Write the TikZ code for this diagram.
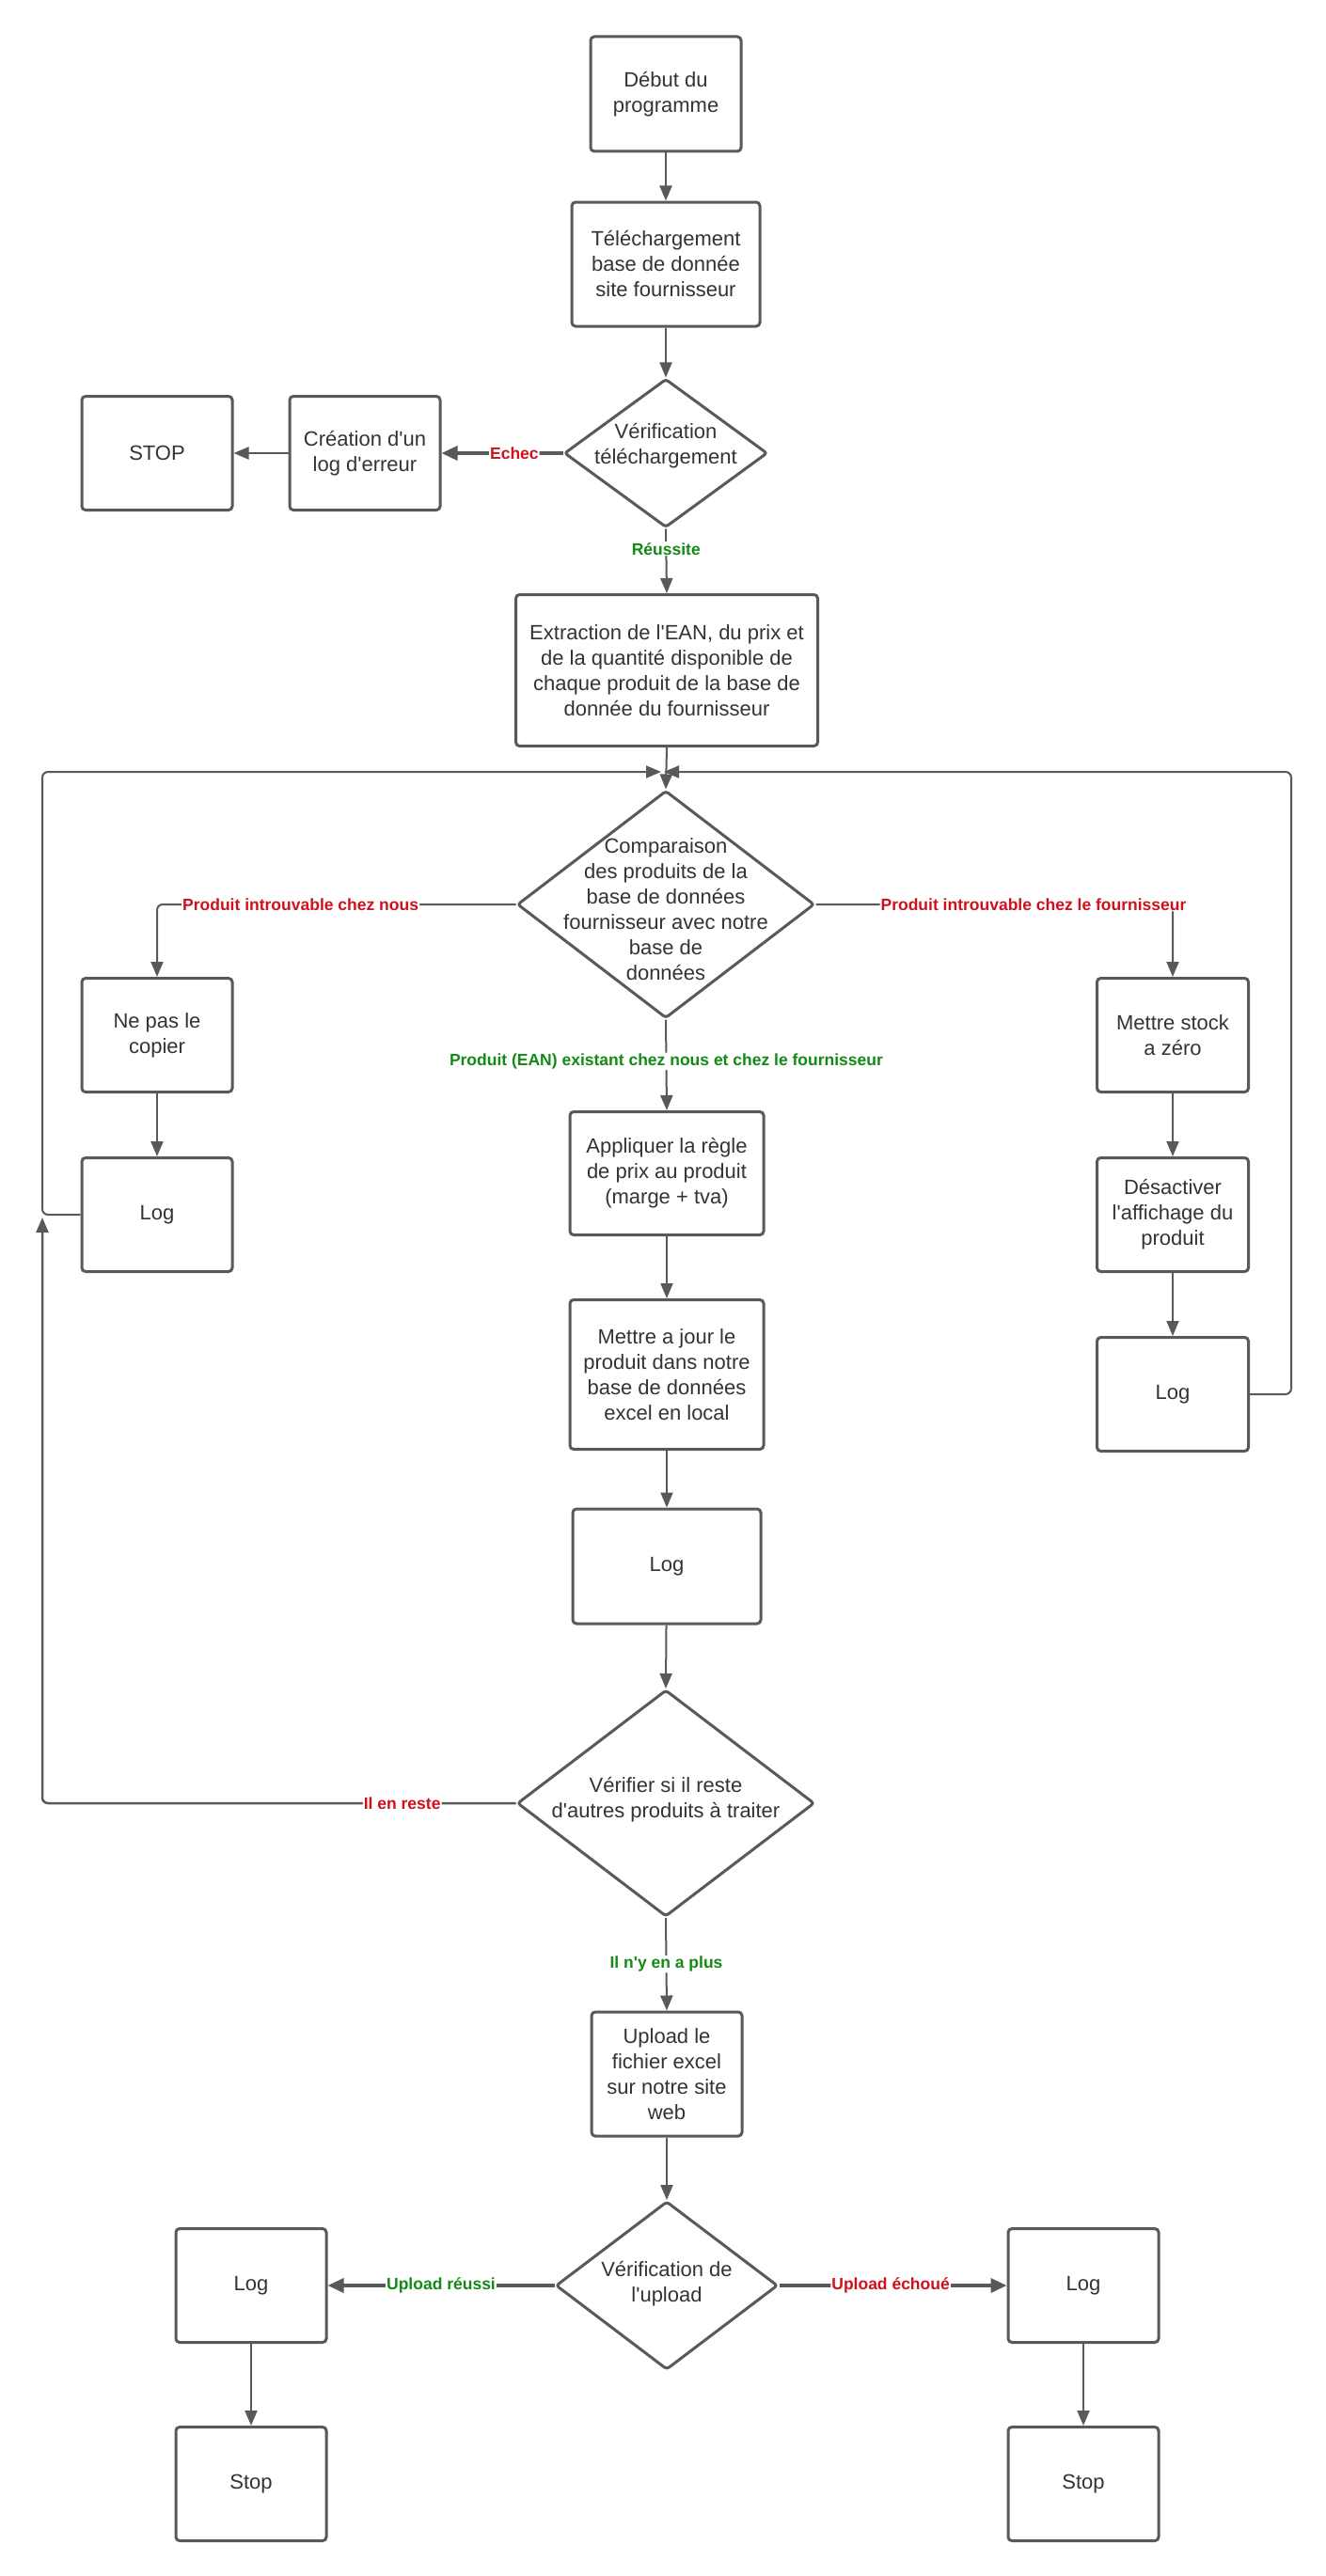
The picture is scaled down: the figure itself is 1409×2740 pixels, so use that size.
\documentclass[tikz,border=0pt]{standalone}
\usepackage{fontspec}
\setmainfont{Liberation Sans}
\newfontfamily\lsans{Liberation Sans}
\usetikzlibrary{shapes.geometric,arrows.meta,calc}
\definecolor{ln}{HTML}{595959}
\definecolor{tx}{HTML}{333333}
\definecolor{rd}{HTML}{D0101B}
\definecolor{gn}{HTML}{138A16}
\begin{document}
\begin{tikzpicture}[x=1pt,y=-1pt,
 box/.style={draw=ln, line width=3pt, rounded corners=4pt, fill=white, text=tx, align=center, font=\lsans\fontsize{22}{27}\selectfont, inner sep=0pt},
 dia/.style={draw=ln, line width=3pt, shape=diamond, rounded corners=3pt, inner sep=0pt, fill=white},
 dtxt/.style={text=tx, align=center, font=\lsans\fontsize{22}{27}\selectfont, inner sep=0pt},
 conn/.style={draw=ln, line width=2pt, -{Triangle[length=16pt,width=13pt]}, rounded corners=6pt},
 boldc/.style={draw=ln, line width=3.5pt, -{Triangle[length=17pt,width=15pt]}, rounded corners=6pt},
 lbl/.style={fill=white, inner sep=1pt, font=\lsans\bfseries\fontsize{17.5}{20}\selectfont},
]
\fill[white] (0,0) rectangle (1409,2740);
\useasboundingbox (0,0) rectangle (1409,2740);

% nodes
\node[box, minimum width=160pt, minimum height=122pt] (deb) at (708,100) {Début du\\programme};
\node[box, minimum width=200pt, minimum height=132pt] (tel) at (708,281) {Téléchargement\\base de donnée\\site fournisseur};
\node[dia, minimum width=216pt, minimum height=158pt, label={[dtxt,yshift=8pt]center:{Vérification\\téléchargement}}] (d1) at (708,482) {};
\node[box, minimum width=160pt, minimum height=121pt] (cre) at (388,482) {Création d'un\\log d'erreur};
\node[box, minimum width=160pt, minimum height=121pt] (stop) at (167,482) {STOP};
\node[box, minimum width=321pt, minimum height=161pt] (ext) at (709,713) {Extraction de l'EAN, du prix et\\de la quantité disponible de\\chaque produit de la base de\\donnée du fournisseur};
\node[dia, minimum width=316pt, minimum height=242pt, label={[dtxt,yshift=-5pt]center:{Comparaison\\des produits de la\\base de données\\fournisseur avec notre\\base de\\données}}] (d2) at (708,962) {};
\node[box, minimum width=160pt, minimum height=121pt] (nepas) at (167,1101) {Ne pas le\\copier};
\node[box, minimum width=160pt, minimum height=121pt] (logL) at (167,1292) {Log};
\node[box, minimum width=161pt, minimum height=121pt] (mst) at (1247,1101) {Mettre stock\\a zéro};
\node[box, minimum width=161pt, minimum height=121pt] (des) at (1247,1292) {Désactiver\\l'affichage du\\produit};
\node[box, minimum width=161pt, minimum height=121pt] (logR) at (1247,1483) {Log};
\node[box, minimum width=206pt, minimum height=131pt] (app) at (709,1248) {Appliquer la règle\\de prix au produit\\(marge + tva)};
\node[box, minimum width=206pt, minimum height=159pt] (maj) at (709,1462) {Mettre a jour le\\produit dans notre\\base de données\\excel en local};
\node[box, minimum width=200pt, minimum height=122pt] (logC) at (709,1666) {Log};
\node[dia, minimum width=316pt, minimum height=241pt, label={[dtxt,yshift=4pt]center:{Vérifier si il reste\\d'autres produits à traiter}}] (d3) at (708,1918) {};
\node[box, minimum width=160pt, minimum height=132pt] (upl) at (709,2206) {Upload le\\fichier excel\\sur notre site\\web};
\node[dia, minimum width=236pt, minimum height=179pt, label={[dtxt,yshift=2pt]center:{Vérification de\\l'upload}}] (d4) at (709,2431) {};
\node[box, minimum width=160pt, minimum height=121pt] (logUL) at (267,2431) {Log};
\node[box, minimum width=160pt, minimum height=121pt] (stopL) at (267,2642) {Stop};
\node[box, minimum width=160pt, minimum height=121pt] (logUR) at (1152,2431) {Log};
\node[box, minimum width=160pt, minimum height=121pt] (stopR) at (1152,2642) {Stop};

% loop coordinates
\coordinate (jn) at (708,821);
\coordinate (ltop) at (45,821);
\coordinate (lmid) at (45,1292);
\coordinate (lbot) at (45,1918);
\coordinate (rtop) at (1373,821);
\coordinate (rmid) at (1373,1483);

% connectors
\draw[conn] (deb) -- (tel);
\draw[conn] (tel) -- (d1);
\draw[boldc] (d1.west) -- node[lbl,text=rd,pos=0.40]{Echec} (cre.east);
\draw[conn] (cre.west) -- (stop.east);
\draw[conn] (d1.south) -- node[lbl,text=gn,pos=0.31]{Réussite} (ext.north);
\draw[conn] (ext.south) -- (d2.north);
\draw[conn] (d2.west) -| node[lbl,text=rd,pos=0.30]{Produit introuvable chez nous} (nepas.north);
\draw[conn] (d2.east) -| node[lbl,text=rd,pos=0.305]{Produit introuvable chez le fournisseur} (mst.north);
\draw[conn] (d2.south) -- node[lbl,text=gn,pos=0.46]{Produit (EAN) existant chez nous et chez le fournisseur} (app.north);
\draw[conn] (nepas) -- (logL);
\draw[conn] (mst) -- (des);
\draw[conn] (des) -- (logR);
\draw[conn] (app) -- (maj);
\draw[conn] (maj) -- (logC);
\draw[conn] (logC) -- (d3.north);
\draw[conn, shorten >=5pt] (logL.west) -- (lmid) -- (ltop) -- (jn);
\draw[conn, shorten >=-2pt] (logR.east) -- (rmid) -- (rtop) -- (jn);
\draw[conn, line width=2.5pt] (d3.west) -- node[lbl,text=rd,pos=0.24]{Il en reste} (lbot) -- ($(lmid)+(0,3)$);
\draw[conn] (d3.south) -- node[lbl,text=gn,pos=0.5]{Il n'y en a plus} (upl.north);
\draw[conn] (upl) -- (d4.north);
\draw[boldc] (d4.west) -- node[lbl,text=gn,pos=0.5]{Upload réussi} (logUL.east);
\draw[boldc] (d4.east) -- node[lbl,text=rd,pos=0.49]{Upload échoué} (logUR.west);
\draw[conn] (logUL) -- (stopL);
\draw[conn] (logUR) -- (stopR);
\end{tikzpicture}
\end{document}
